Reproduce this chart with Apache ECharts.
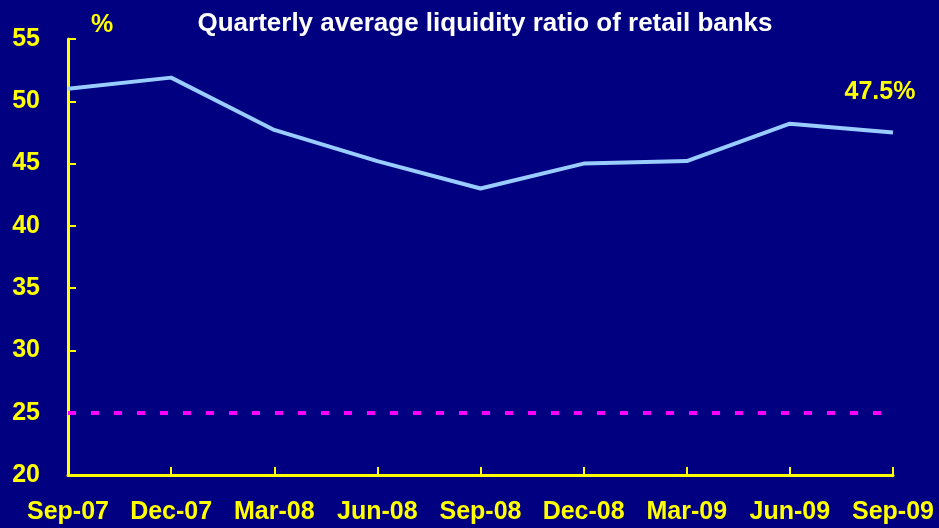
<!DOCTYPE html>
<html><head><meta charset="utf-8">
<script src="https://cdn.jsdelivr.net/npm/echarts@6/dist/echarts.min.js"></script>
<style>html,body{margin:0;padding:0;background:#000080}#c{width:939px;height:528px}</style>
</head><body><div id="c"></div>
<script>
const categories = ['Sep-07','Dec-07','Mar-08','Jun-08','Sep-08','Dec-08','Mar-09','Jun-09','Sep-09'];
const liquidity = [51.0, 51.9, 47.7, 45.2, 43.0, 45.0, 45.2, 48.2, 47.5];
const minimumRatio = 25;
const yTicks = [20, 25, 30, 35, 40, 45, 50, 55];

const chart = echarts.init(document.getElementById('c'));
const font = 'Liberation Sans, Arial, sans-serif';
const last = liquidity.length - 1;
chart.setOption({
  backgroundColor: '#000080',
  animation: false,
  title: [
    {text: 'Quarterly average liquidity ratio of retail banks', left: 480, textAlign: 'center', top: 6,
     textStyle: {color: '#ffffff', fontFamily: font, fontWeight: 'bold', fontSize: 26}},
    {text: '%', left: 86, top: 8, textStyle: {color: '#ffff00', fontFamily: font, fontWeight: 'bold', fontSize: 25}}
  ],
  grid: {left: 68, right: 46, top: 39, bottom: 53},
  xAxis: {
    type: 'category', data: categories, boundaryGap: false,
    axisLine: {lineStyle: {color: '#ffff00', width: 3}},
    axisTick: {inside: true, length: 8, lineStyle: {color: '#ffff00', width: 2}},
    axisLabel: {color: '#ffff00', fontFamily: font, fontWeight: 'bold', fontSize: 25, margin: 25, interval: 0},
    splitLine: {show: false}
  },
  yAxis: {
    type: 'value', min: yTicks[0], max: yTicks[yTicks.length-1], interval: 5,
    axisLine: {show: true, lineStyle: {color: '#ffff00', width: 3}},
    axisTick: {show: true, inside: true, length: 8, lineStyle: {color: '#ffff00', width: 2}},
    axisLabel: {color: '#ffff00', fontFamily: font, fontWeight: 'bold', fontSize: 25, margin: 28},
    splitLine: {show: false}
  },
  series: [{
    type: 'line', data: liquidity,
    symbol: 'none', lineStyle: {color: '#99ccff', width: 4},
    z: 3,
    markPoint: {
      silent: true, symbol: 'circle', symbolSize: 0,
      label: {show: true, position: 'top', offset: [-13, -23], formatter: p => p.value.toFixed(1) + '%',
              color: '#ffff00', fontFamily: font, fontWeight: 'bold', fontSize: 25},
      data: [{coord: [categories[last], liquidity[last]], value: liquidity[last]}]
    },
    markLine: {
      silent: true, symbol: 'none', label: {show: false},
      lineStyle: {color: '#ff00ff', type: [8, 15], width: 4},
      data: [{yAxis: minimumRatio}]
    }
  }]
});
</script></body></html>
